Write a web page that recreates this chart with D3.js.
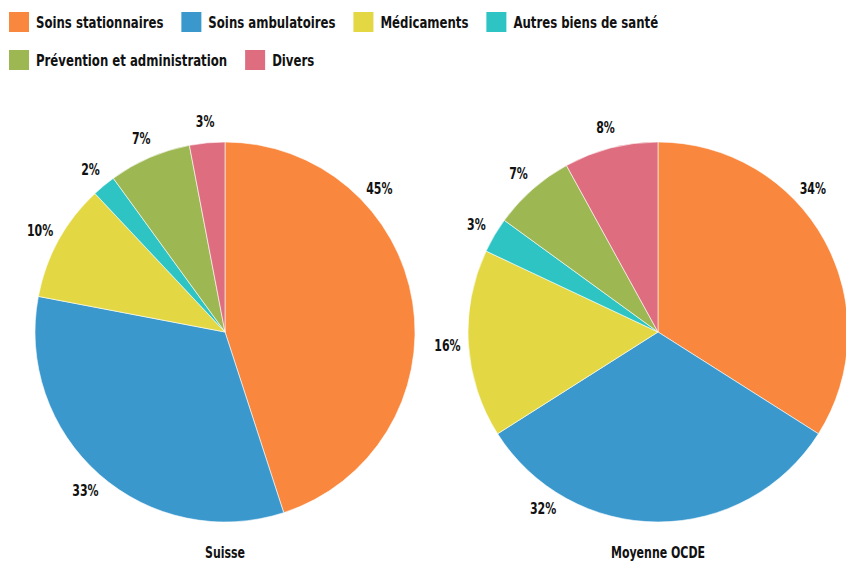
<!DOCTYPE html>
<html>
<head>
<meta charset="utf-8">
<script src="https://cdn.jsdelivr.net/npm/d3@7"></script>
<style>
body{margin:0;background:#fff;}
text{font-family:"DejaVu Sans Condensed","DejaVu Sans",sans-serif;font-weight:bold;fill:#111;}
</style>
</head>
<body>
<svg id="chart" width="846" height="561"></svg>
<script>
'use strict'

var categories = ['Soins stationnaires','Soins ambulatoires','Médicaments','Autres biens de santé','Prévention et administration','Divers'];
var colors = ['#f9873e','#3b98cd','#e3d843','#2ec4c3','#9db853','#de6e7f'];
var pieNames = ['Suisse','Moyenne OCDE'];
var suisseValues = [45,33,10,2,7,3];
var ocdeValues = [34,32,16,3,7,8];

var width = 846;
var height = 561;
var radius = 190;
var labelRadius = 211;
var fontSize = 16;
var squeeze = 0.815; // the original face is narrower than DejaVu

var svg = d3.select('#chart');

// legend, flowing left to right
var legend = svg.append('g');
var lx = 9, ly = 12;
for(var c = 0;c<categories.length;c++){
	var item = legend.append('g');
	item.append('rect').attr('width',20).attr('height',20).attr('fill',colors[c]);
	var t = item.append('text')
		.attr('transform','translate(27,16) scale('+squeeze+',1)')
		.attr('font-size',fontSize).text(categories[c]);
	var w = 27 + t.node().getComputedTextLength()*squeeze;
	if(lx + w > width){
		lx = 9;
		ly += 38;
	}
	item.attr('transform','translate('+lx+','+ly+')');
	lx += w + 18;
}

var pie = d3.pie().sort(null).value(function(d){ return d; });
var arc = d3.arc().innerRadius(0).outerRadius(radius);

function drawPie(values, name, cx, cy){
	var g = svg.append('g').attr('transform','translate('+cx+','+cy+')');
	var arcs = pie(values);
	g.selectAll('path').data(arcs).enter().append('path')
		.attr('d',arc)
		.attr('fill',function(d,i){ return colors[i]; })
		.attr('stroke','#fff')
		.attr('stroke-width',0.6);

	for(var c = 0;c<arcs.length;c++){
		var a = (arcs[c].startAngle + arcs[c].endAngle)/2;
		var lab = g.append('text').attr('font-size',fontSize-1).attr('text-anchor','middle').text(values[c]+'%');
		var half = lab.node().getComputedTextLength()*squeeze/2;
		// keep labels inside the pie's box: turn them toward the top / side
		for(var k = 0;k<90;k++){
			var x = Math.sin(a)*labelRadius;
			var y = cy - Math.cos(a)*labelRadius;
			if(x + half > radius - 22) a -= Math.PI/180;
			else if(y > 509) a += Math.PI/180;
			else break;
		}
		lab.attr('transform','translate('+(Math.sin(a)*labelRadius)+','+(-Math.cos(a)*labelRadius + 5.5)+') scale('+squeeze+',1)');
	}

	svg.append('text').attr('font-size',fontSize-1).attr('text-anchor','middle')
		.attr('transform','translate('+cx+',558) scale('+squeeze+',1)')
		.text(name);
}

drawPie(suisseValues, pieNames[0], 225, 332);
drawPie(ocdeValues, pieNames[1], 658, 332);
</script>
</body>
</html>
